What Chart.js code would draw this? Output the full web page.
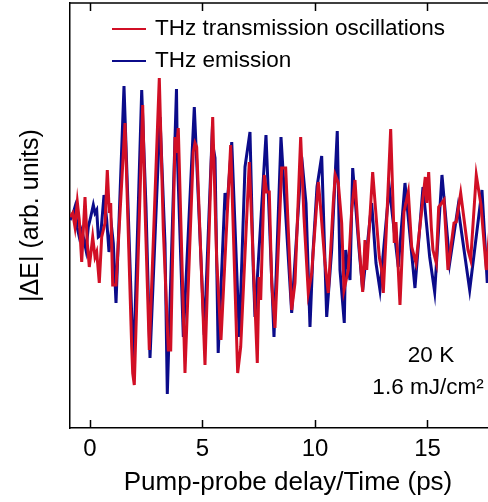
<!DOCTYPE html>
<html>
<head>
<meta charset="utf-8">
<script src="https://cdn.jsdelivr.net/npm/chart.js@4"></script>
<style>
  html, body { margin: 0; padding: 0; background: #fff; overflow: hidden; }
  #wrap { width: 506px; height: 502px; }
</style>
</head>
<body>
<div id="wrap"><canvas id="thzChart" width="506" height="502"></canvas></div>
<script>
// time (ps) and field values (arb. units)
const redTime = [-0.889, -0.77, -0.667, -0.564, -0.476, -0.369, -0.222, -0.12, -0.031, 0.12,
  0.222, 0.298, 0.413, 0.52, 0.667, 0.769, 0.858, 0.92, 1.009, 1.156,
  1.556, 1.853, 1.898, 1.969, 2.342, 2.444, 2.636, 3.08, 3.259, 3.48,
  3.587, 3.778, 3.836, 3.924, 4.222, 4.591, 4.667, 4.742, 5.111, 5.453,
  5.631, 5.822, 6.253, 6.564, 6.698, 7.08, 7.436, 7.511, 7.587, 7.747,
  7.853, 7.969, 8.076, 8.222, 8.52, 8.698, 8.964, 9.111, 9.364, 9.511,
  9.702, 9.853, 10.147, 10.222, 10.444, 10.591, 10.813, 10.902, 11.036, 11.187,
  11.289, 11.48, 11.631, 11.778, 11.924, 12.12, 12.222, 12.298, 12.564, 12.858,
  12.964, 13.036, 13.156, 13.364, 13.524, 13.6, 13.778, 13.956, 14.147, 14.298,
  14.489, 14.902, 14.97, 15.053, 15.169, 15.244, 15.391, 15.498, 15.733, 15.911,
  16.178, 16.28, 16.476, 16.8, 16.92, 17.169, 17.378, 17.613, 17.9, 18.2];
const redValues = [-0.02, 0.02, -0.12, 0.13, -0.05, -0.47, 0.18, -0.28, -0.52, -0.22,
  -0.42, -0.37, -0.68, -0.22, -0.08, 0.45, 0.02, 0.12, -0.70, -0.70,
  0.92, -1.32, -1.58, -1.70, 1.10, 0.08, -1.35, 1.37, -0.15, -1.35,
  -1.35, 0.78, 0.62, 0.87, -1.58, 0.63, 0.72, 0.68, -1.50, 0.98,
  -0.45, -1.25, 0.70, -1.58, -1.32, 0.53, -1.48, -0.62, -0.85, 0.40,
  0.23, 0.23, -0.68, -1.13, 0.47, 0.47, -0.95, -0.68, 0.78, -0.02,
  -0.78, -0.58, 0.33, 0.15, -0.48, -0.78, 0.12, 0.40, 0.32, -0.08,
  -0.75, -0.55, 0.05, 0.35, -0.18, -0.77, -0.25, -0.55, 0.43, -0.42,
  -0.55, -0.78, -0.22, 0.86, -0.28, -0.07, -0.90, 0.03, 0.23, -0.32,
  -0.48, 0.38, 0.12, 0.43, -0.12, -0.35, -0.48, 0.08, 0.15, -0.55,
  -0.08, -0.07, 0.22, -0.35, -0.45, 0.40, 0.10, -0.55, 0.20, -0.30];

const blueTime = [-0.889, -0.77, -0.667, -0.564, -0.476, -0.369, -0.267, -0.178, -0.076, 0.031,
  0.147, 0.222, 0.298, 0.369, 0.476, 0.622, 0.742, 0.844, 0.964, 1.036,
  1.156, 1.511, 1.933, 2.298, 2.489, 2.667, 3.111, 3.333, 3.436, 3.844,
  3.88, 4.148, 4.636, 5.08, 5.42, 5.556, 5.698, 6.0, 6.089, 6.3,
  6.636, 6.889, 7.111, 7.258, 7.333, 7.822, 8.178, 8.489, 8.964, 9.408,
  9.6, 9.778, 9.91, 10.089, 10.298, 10.52, 10.742, 10.99, 11.111, 11.302,
  11.364, 11.556, 11.676, 11.969, 12.12, 12.52, 12.711, 12.889, 13.302, 13.702,
  14.0, 14.444, 14.8, 15.098, 15.32, 15.644, 15.987, 16.356, 16.876, 17.422,
  17.658, 17.95, 18.3];
const blueValues = [-0.05, 0.00, 0.08, -0.13, -0.22, -0.15, -0.25, -0.35, -0.12, -0.02,
  0.10, 0.02, 0.05, -0.22, -0.20, 0.20, -0.05, -0.37, -0.13, -0.28,
  -0.88, 1.29, -1.53, 1.25, 0.08, -1.43, 0.98, -0.28, -1.79, 1.26,
  0.62, -1.22, 1.08, -1.20, 0.75, 0.57, -1.38, 0.22, 0.08, 0.73,
  -1.22, 0.48, 0.83, -0.55, -1.02, 0.80, -1.22, 0.78, -0.98, 0.58,
  0.12, -1.12, -0.38, 0.28, 0.59, -1.02, -0.35, 0.84, -0.55, -1.08,
  -0.35, -0.65, 0.47, -0.37, -0.75, 0.12, -0.48, -0.75, 0.28, -0.52,
  0.32, -0.73, 0.28, -0.42, -0.77, 0.40, -0.48, 0.08, -0.75, 0.25,
  -0.68, 0.15, -0.35];

const xTicks = [0, 5, 10, 15];

const redColor = '#d10f25';
const blueColor = '#0b0b8a';
const fontFamily = '"Liberation Sans", Arial, Helvetica, sans-serif';

function toPoints(t, v) {
  return t.map((x, i) => ({ x: x, y: v[i] }));
}

// frame top line, inward ticks, legend, annotation
const extrasPlugin = {
  id: 'extras',
  afterDraw(chart) {
    const ctx = chart.ctx;
    const area = chart.chartArea;
    const xs = chart.scales.x;
    ctx.save();
    ctx.strokeStyle = '#000';
    ctx.lineWidth = 1.5;
    ctx.beginPath();
    ctx.moveTo(area.left, area.top);
    ctx.lineTo(area.right, area.top);
    xTicks.forEach(v => {
      const px = Math.round(xs.getPixelForValue(v)) + 0.5;
      ctx.moveTo(px, area.bottom);
      ctx.lineTo(px, area.bottom - 8);
      ctx.moveTo(px, area.top);
      ctx.lineTo(px, area.top + 8);
    });
    ctx.stroke();

    // legend
    ctx.font = '22.5px ' + fontFamily;
    ctx.textBaseline = 'middle';
    ctx.textAlign = 'left';
    chart.data.datasets.forEach((ds, i) => {
      const y = 29 + i * 32;
      ctx.strokeStyle = ds.borderColor;
      ctx.lineWidth = 2;
      ctx.beginPath();
      ctx.moveTo(112, y);
      ctx.lineTo(146, y);
      ctx.stroke();
      ctx.fillStyle = '#000';
      ctx.fillText(ds.label, 155, y);
    });

    // annotation
    ctx.textAlign = 'center';
    ctx.fillText('20 K', 431, 356);
    ctx.fillText('1.6 mJ/cm²', 428, 388);
    ctx.restore();
  }
};

new Chart(document.getElementById('thzChart'), {
  type: 'line',
  data: {
    datasets: [
      {
        label: 'THz transmission oscillations',
        data: toPoints(redTime, redValues),
        borderColor: redColor,
        borderWidth: 3,
        pointRadius: 0,
        tension: 0
      },
      {
        label: 'THz emission',
        data: toPoints(blueTime, blueValues),
        borderColor: blueColor,
        borderWidth: 3,
        pointRadius: 0,
        tension: 0
      }
    ]
  },
  options: {
    responsive: false,
    animation: false,
    layout: { padding: { top: 3, right: 0, left: 0, bottom: 0 } },
    plugins: { legend: { display: false }, tooltip: { enabled: false } },
    scales: {
      x: {
        type: 'linear',
        min: -0.889,
        max: 18.49,
        afterFit(scale) { scale.height = 74; },
        afterBuildTicks(scale) { scale.ticks = xTicks.map(v => ({ value: v })); },
        grid: { display: false, drawTicks: false },
        border: { display: true, color: '#000', width: 1.5 },
        ticks: { color: '#000', padding: 7, font: { family: fontFamily, size: 24 }, maxRotation: 0 },
        title: {
          display: true,
          text: 'Pump-probe delay/Time (ps)',
          color: '#000',
          font: { family: fontFamily, size: 26 },
          padding: { top: 0, bottom: 4 }
        }
      },
      y: {
        min: -2.13,
        max: 2.12,
        afterFit(scale) { scale.width = 70; },
        grid: { display: false, drawTicks: false },
        border: { display: true, color: '#000', width: 1.5 },
        ticks: { display: false },
        title: {
          display: true,
          text: '|ΔE| (arb. units)',
          color: '#000',
          font: { family: fontFamily, size: 25 },
          padding: { top: 16, bottom: 0 }
        }
      }
    }
  },
  plugins: [extrasPlugin]
});
</script>
</body>
</html>
